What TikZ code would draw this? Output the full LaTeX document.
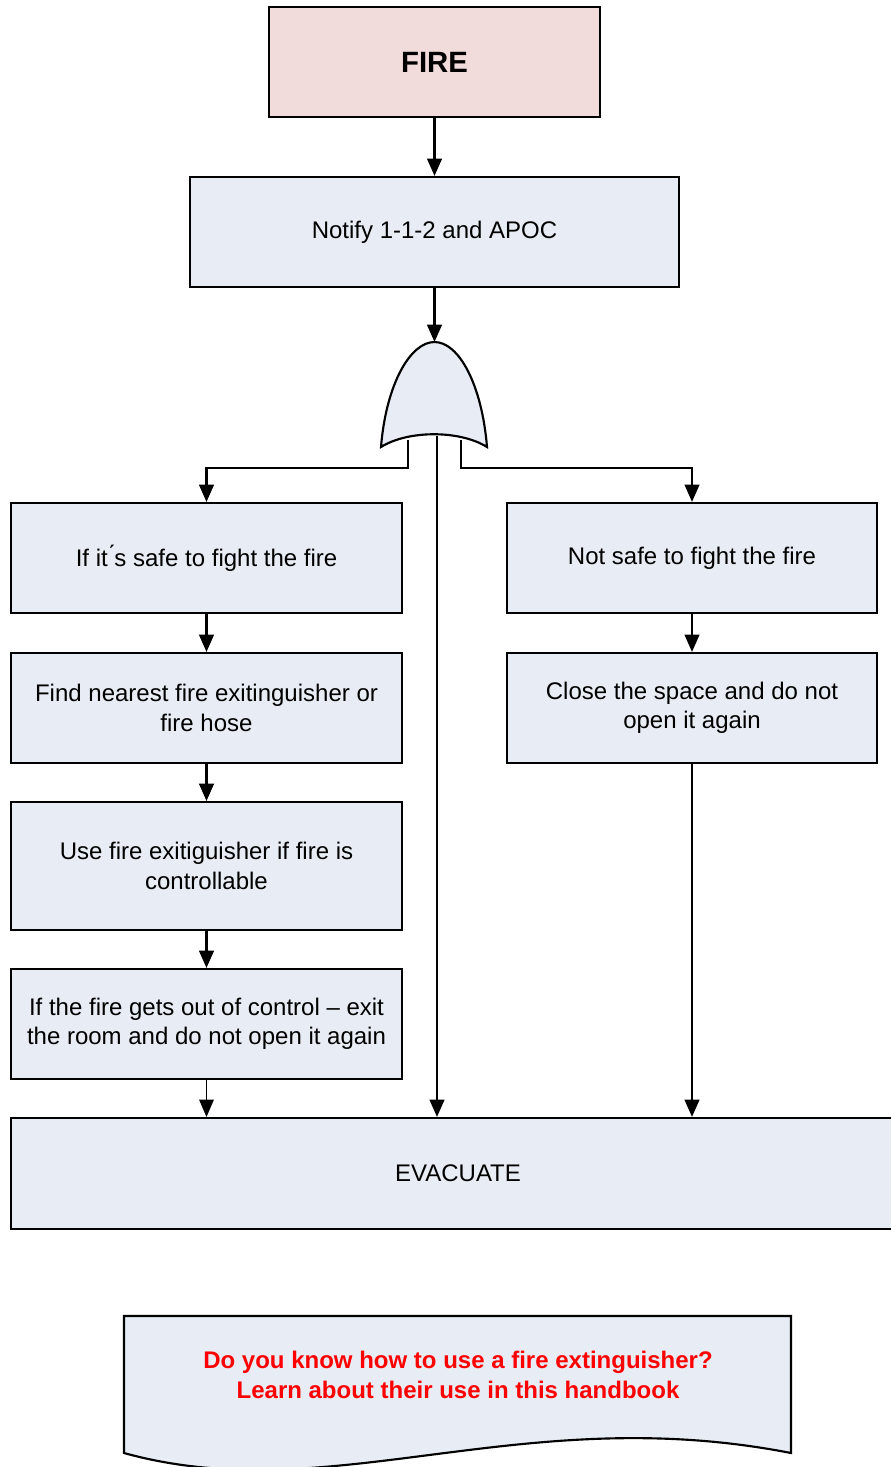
\documentclass[tikz,border=0pt]{standalone}
\usepackage{fontspec}
\setmainfont{Liberation Sans}
\usetikzlibrary{arrows.meta}
\definecolor{boxfill}{HTML}{E8ECF4}
\definecolor{firefill}{HTML}{F2DCDB}
\definecolor{redtxt}{HTML}{FF0000}
\tikzset{
  stepbox/.style={draw=black, fill=boxfill, line width=1.6pt, rectangle, align=center,
    inner sep=0pt, font=\fontsize{18}{22}\selectfont},
  arr/.style={line width=1.7pt, -{Triangle[width=11pt,length=13pt]}},
  thinarr/.style={line width=0.7pt, -{Triangle[width=11pt,length=13pt]}},
}
\begin{document}
\begin{tikzpicture}[x=0.75pt,y=-0.75pt]
\useasboundingbox (0,0) rectangle (891,1467);
\clip (0,0) rectangle (891,1467);
% boxes
\node[stepbox, fill=firefill, minimum width=331*0.75pt, minimum height=110*0.75pt,
  font=\fontsize{22}{26}\selectfont\bfseries] (fire) at (434.5,62) {FIRE};
\node[stepbox, minimum width=489*0.75pt, minimum height=110*0.75pt] (notify) at (434.5,232) {Notify 1-1-2 and APOC};
\node[stepbox, minimum width=391*0.75pt, minimum height=110*0.75pt] (safe) at (206.5,558) {If it\'{}s safe to fight the fire};
\node[stepbox, minimum width=391*0.75pt, minimum height=110*0.75pt] (find) at (206.5,708) {Find nearest fire exitinguisher or\\fire hose};
\node[stepbox, minimum width=391*0.75pt, minimum height=128*0.75pt] (use) at (206.5,866) {Use fire exitiguisher if fire is\\controllable};
\node[stepbox, minimum width=391*0.75pt, minimum height=110*0.75pt] (outctrl) at (206.5,1024) {If the fire gets out of control -- exit\\the room and do not open it again};
\node[stepbox, minimum width=370*0.75pt, minimum height=110*0.75pt] (notsafe) at (692,558) {Not safe to fight the fire};
\node[stepbox, minimum width=370*0.75pt, minimum height=110*0.75pt] (close) at (692,708) {Close the space and do not\\open it again};
\node[stepbox, minimum width=894*0.75pt, minimum height=111*0.75pt] (evac) at (458,1173.5) {EVACUATE};
% OR gate
\draw[line width=1.6pt, fill=boxfill]
  (381,447) .. controls (386,385) and (410,342) .. (434.5,342)
  .. controls (459,342) and (482,385) .. (487,447)
  .. controls (460,430) and (408,430) .. (381,447) -- cycle;
\coordinate (gtop) at (434.5,342);
\coordinate (gL) at (408,440);
\coordinate (gC) at (437,436);
\coordinate (gR) at (461,440);
\coordinate (jL) at (408,468);
\coordinate (jR) at (461,468);
% document shape
\draw[line width=1.6pt, fill=boxfill]
  (124,1316) -- (791,1316) -- (791,1453)
  .. controls (520,1400) and (330,1510) .. (124,1453) -- cycle;
\node[font=\fontsize{18}{22.5}\selectfont\bfseries, text=redtxt, align=center] (doc) at (458,1375)
  {Do you know how to use a fire extinguisher?\\Learn about their use in this handbook};
% connectors
\draw[arr] (fire.south) -- (notify.north);
\draw[arr] (notify.south) -- (gtop);
\draw[arr] (gL) -- (jL) -| (safe.north);
\draw[arr] (gR) -- (jR) -| (notsafe.north);
\draw[arr] (gC) -- (gC |- evac.north);
\draw[arr] (safe.south) -- (find.north);
\draw[arr] (find.south) -- (use.north);
\draw[arr] (use.south) -- (outctrl.north);
\draw[thinarr] (outctrl.south) -- (evac.north -| outctrl.south);
\draw[arr] (notsafe.south) -- (close.north);
\draw[arr] (close.south) -- (evac.north -| close.south);
\end{tikzpicture}
\end{document}
